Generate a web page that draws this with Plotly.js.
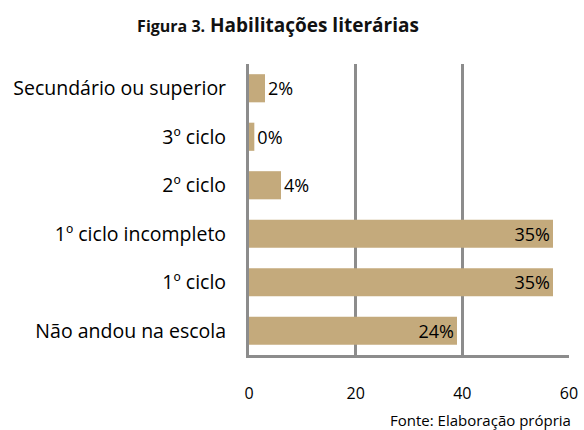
<!DOCTYPE html>
<html>
<head>
<meta charset="utf-8">
<script src="https://cdn.plot.ly/plotly-3.0.1.min.js"></script>
<style>html,body{margin:0;padding:0;background:#fff;}#chart{width:584px;height:430px;}</style>
</head>
<body>
<div id="chart"></div>
<script>
const categories = ['Não andou na escola', '1º ciclo', '1º ciclo incompleto', '2º ciclo', '3º ciclo', 'Secundário ou superior'];
const values = [39, 57, 57, 6, 1, 3];
const valueLabels = ['24%', '35%', '35%', '4%', '0%', '2%'];
const xTicks = [0, 20, 40, 60];

const FONT = '"Open Sans", Lato, sans-serif';

const trace = {
  type: 'bar',
  orientation: 'h',
  y: categories,
  x: values,
  text: valueLabels,
  textposition: values.map(v => v > 20 ? 'inside' : 'outside'),
  insidetextanchor: 'end',
  constraintext: 'none',
  cliponaxis: false,
  textfont: {family: FONT, size: 18, color: '#000'},
  marker: {color: '#c4aa7c'},
  hoverinfo: 'none'
};

const layout = {
  width: 584, height: 430,
  margin: {l: 248.5, r: 15, t: 64, b: 75},
  paper_bgcolor: '#fff', plot_bgcolor: '#fff',
  bargap: 0.42,
  showlegend: false,
  font: {family: FONT, color: '#000'},
  title: {
    text: '<b><span style="font-size:16px">Figura 3.</span> Habilitações literárias</b>',
    font: {family: FONT, size: 19, color: '#111'},
    xref: 'container', x: 0.476, xanchor: 'center',
    yref: 'container', y: 0.942, yanchor: 'middle'
  },
  xaxis: {
    range: [0, 60],
    tickvals: xTicks,
    ticktext: xTicks.map(String),
    showgrid: true, gridcolor: '#8c8c8c', gridwidth: 3,
    zeroline: false,
    showline: true, linecolor: '#8c8c8c', linewidth: 3,
    ticks: '',
    ticklabelstandoff: 22,
    tickfont: {family: FONT, size: 16, color: '#000'},
    fixedrange: true
  },
  yaxis: {
    showgrid: false, zeroline: false,
    showline: true, linecolor: '#8c8c8c', linewidth: 3,
    ticks: '',
    ticklabelstandoff: 16,
    tickfont: {family: FONT, size: 19.5, color: '#000'},
    fixedrange: true
  },
  annotations: [{
    text: 'Fonte: Elaboração própria',
    xref: 'paper', yref: 'paper',
    x: 1.0125, xanchor: 'right',
    y: -0.222, yanchor: 'middle',
    showarrow: false,
    font: {family: FONT, size: 15, color: '#000'}
  }]
};

Plotly.newPlot('chart', [trace], layout, {displayModeBar: false, staticPlot: true});
</script>
</body>
</html>
